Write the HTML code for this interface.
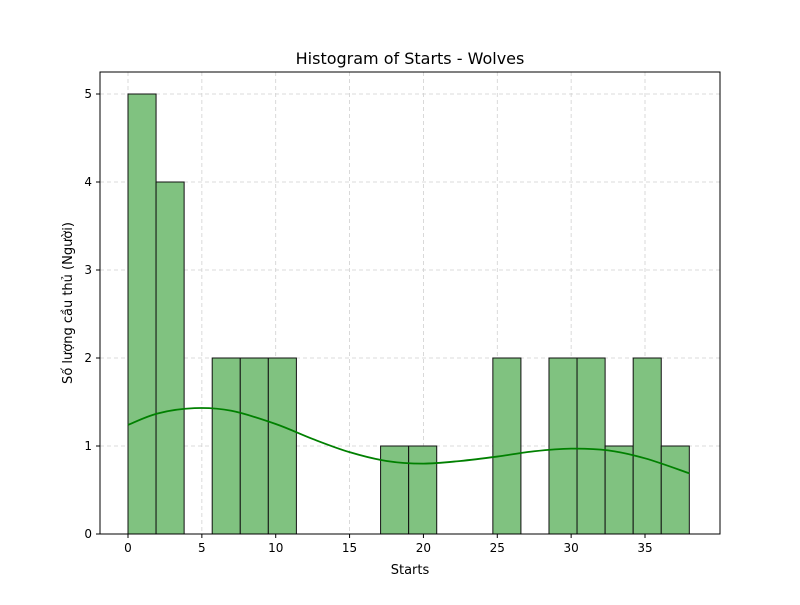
<!DOCTYPE html>
<html><head><meta charset="utf-8"><style>
body{margin:0;background:#fff;font-family:"Liberation Sans","DejaVu Sans",sans-serif;}
svg text{font-family:"DejaVu Sans","Liberation Sans",sans-serif;}
</style></head><body>
<svg id="chart" width="800" height="600" xmlns="http://www.w3.org/2000/svg"></svg>
<script>
const binCounts=[5,4,0,2,2,2,0,0,0,1,1,0,0,2,0,2,2,1,2,1];
const binStart=0, binEnd=38;
const xTicks=[0,5,10,15,20,25,30,35];
const yTicks=[0,1,2,3,4,5];
const kdeX=[0,2,4.5,7,10,12.5,15,17.5,20,22.5,25,27.5,30,32.5,35,38];
const kdeY=[1.24,1.37,1.43,1.40,1.25,1.08,0.93,0.83,0.80,0.83,0.88,0.94,0.97,0.95,0.86,0.69];
const L=100,R=720,T=72,B=534;
const xs=v=>128+v*(645-128)/35;
const ys=v=>534-v*88;
const svg=document.getElementById('chart');
const NS='http://www.w3.org/2000/svg';
function mk(tag,attrs,parent){const e=document.createElementNS(NS,tag);for(const k in attrs)e.setAttribute(k,attrs[k]);(parent||svg).appendChild(e);return e;}
xTicks.forEach(t=>{const g=mk('line',{x1:xs(t),x2:xs(t),y1:T,y2:B,stroke:'#d0d0d0','stroke-dasharray':'4,3','stroke-width':0.8});

});
yTicks.forEach(t=>{const g=mk('line',{x1:L,x2:R,y1:ys(t),y2:ys(t),stroke:'#d0d0d0','stroke-dasharray':'4,3','stroke-width':0.8});

});
const bw=(binEnd-binStart)/binCounts.length;
binCounts.forEach((c,i)=>{if(c<=0)return;const x0=xs(binStart+i*bw),x1=xs(binStart+(i+1)*bw);
const r=mk('rect',{x:x0,y:ys(c),width:x1-x0,height:ys(0)-ys(c),fill:'#80c280',stroke:'#111','stroke-width':1});

});
// smooth kde via catmull-rom
const pts=kdeX.map((x,i)=>[xs(x),ys(kdeY[i])]);
let d='M'+pts[0][0]+','+pts[0][1];
for(let i=0;i<pts.length-1;i++){const p0=pts[Math.max(0,i-1)],p1=pts[i],p2=pts[i+1],p3=pts[Math.min(pts.length-1,i+2)];
const c1=[p1[0]+(p2[0]-p0[0])/6,p1[1]+(p2[1]-p0[1])/6],c2=[p2[0]-(p3[0]-p1[0])/6,p2[1]-(p3[1]-p1[1])/6];
d+='C'+c1[0]+','+c1[1]+' '+c2[0]+','+c2[1]+' '+p2[0]+','+p2[1];}
const p=mk('path',{d:d,fill:'none',stroke:'#008000','stroke-width':1.8,'stroke-linejoin':'round'});


const f=mk('rect',{x:L,y:T,width:R-L,height:B-T,fill:'none',stroke:'#000','stroke-width':1});


xTicks.forEach(t=>{mk('line',{x1:xs(t),x2:xs(t),y1:B,y2:B+4,stroke:'#000'});
const tx=mk('text',{x:xs(t),y:B+18,'text-anchor':'middle','font-size':12});tx.textContent=t;

});
yTicks.forEach(t=>{mk('line',{x1:L-4,x2:L,y1:ys(t),y2:ys(t),stroke:'#000'});
const tx=mk('text',{x:L-8,y:ys(t)+4,'text-anchor':'end','font-size':12});tx.textContent=t;

});
const ti=mk('text',{x:410,y:64,'text-anchor':'middle','font-size':16});ti.textContent='Histogram of Starts - Wolves';


const xl=mk('text',{x:410,y:574,'text-anchor':'middle','font-size':13});xl.textContent='Starts';


const yl=mk('text',{x:0,y:0,'text-anchor':'middle','font-size':13,transform:'translate(72,303) rotate(-90)'});yl.textContent='Số lượng cầu thủ (Người)';


</script>
</body></html>
